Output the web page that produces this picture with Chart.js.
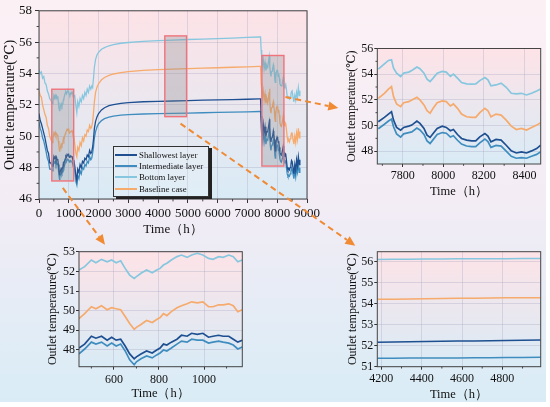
<!DOCTYPE html>
<html>
<head>
<meta charset="utf-8">
<script src="https://cdn.jsdelivr.net/npm/chart.js@4.4.1/dist/chart.umd.min.js"></script>
<style>
  html, body { margin: 0; padding: 0; }
  body { width: 550px; height: 407px; position: relative; overflow: hidden; background: #fff; }
  #bg { position: absolute; left: 0; top: 0; width: 546px; height: 402px;
        background: linear-gradient(to bottom, #fbf1f5 0%, #f3ecf5 50%, #d9ecf6 100%); }
  canvas { position: absolute; }
  #legend { position: absolute; left: 113px; top: 146px; width: 94px; height: 47px; padding-top: 2px;
            border: 1px solid #333; box-shadow: 3px 2px 0 #222; background: rgba(255,255,255,0.15);
            font: 8.8px 'Liberation Serif', serif; color: #111; }
  #legend .row { height: 11.3px; display: flex; align-items: center; white-space: nowrap; }
  #legend .sw { width: 22px; height: 2px; margin: 0 2px 0 1px; }
</style>
</head>
<body>
<div id="bg"></div>
<canvas id="main" width="330" height="240" style="left:0;top:0"></canvas>
<canvas id="zoomA" width="240" height="175" style="left:20px;top:230px"></canvas>
<canvas id="zoomB" width="260" height="175" style="left:290px;top:230px"></canvas>
<canvas id="zoomC" width="220" height="175" style="left:330px;top:30px"></canvas>
<div id="legend"></div>
<canvas id="arrows" width="550" height="407" style="left:0;top:0;pointer-events:none"></canvas>
<script>
const seriesNames = ['Shallowest layer', 'Intermediate layer', 'Bottom layer', 'Baseline case'];
const seriesColors = ['#1d4f91', '#3f8dbf', '#86c7df', '#f6aa6c'];

// start of the year, before the first zoom window
const earlyHours   = [0, 40, 80, 120, 160, 200, 240, 280, 320, 360, 400];
const earlyShallow = [51.45, 51.0, 50.8, 50.5, 50.2, 49.9, 49.5, 49.1, 48.9, 48.3, 48.3];
const earlyInter   = [50.9, 50.5, 50.3, 49.9, 49.7, 49.35, 49.0, 48.6, 48.4, 47.9, 47.9];
const earlyBottom  = [54.25, 54.0, 54.1, 53.7, 53.8, 53.4, 53.3, 52.9, 52.7, 52.4, 52.3];
const earlyBase    = [52.9, 52.6, 52.5, 52.0, 51.7, 51.4, 51.2, 50.7, 50.5, 50.0, 49.8];

// zoom window 1 (bottom left inset)
const zoomAHours   = [445, 470, 500, 520, 545, 570, 590, 610, 630, 650, 670, 690, 700, 720, 745, 770, 790, 805,
                      820, 835, 855, 880, 900, 925, 945, 970, 995, 1020, 1040, 1065, 1085, 1110, 1130, 1150, 1170];
const zoomAShallow = [48.1, 48.3, 48.7, 48.6, 48.7, 48.5, 48.65, 48.5, 48.55, 48.2, 47.8, 47.55, 47.65, 47.8, 47.95, 47.85, 48.0, 48.1,
                      48.3, 48.25, 48.4, 48.55, 48.75, 48.7, 48.85, 48.8, 48.85, 48.65, 48.7, 48.75, 48.7, 48.7, 48.55, 48.4, 48.5];
const zoomAInter   = [47.8, 48.05, 48.4, 48.3, 48.4, 48.2, 48.35, 48.2, 48.3, 47.95, 47.5, 47.25, 47.4, 47.55, 47.7, 47.6, 47.75, 47.85,
                      48.0, 47.95, 48.1, 48.3, 48.45, 48.4, 48.55, 48.5, 48.5, 48.35, 48.4, 48.45, 48.4, 48.35, 48.25, 48.05, 48.15];
const zoomABottom  = [52.07, 52.24, 52.58, 52.44, 52.61, 52.49, 52.58, 52.44, 52.54, 52.15, 51.81, 51.64, 51.73, 51.9, 52.07, 51.93, 52.07, 52.15,
                      52.32, 52.41, 52.58, 52.75, 52.83, 52.71, 52.83, 52.92, 52.83, 52.66, 52.61, 52.75, 52.71, 52.83, 52.75, 52.49, 52.58];
const zoomABase    = [49.6, 49.85, 50.2, 50.1, 50.25, 50.05, 50.15, 50.1, 50.05, 49.7, 49.35, 49.05, 49.15, 49.3, 49.5, 49.4, 49.55, 49.65,
                      49.85, 49.75, 49.95, 50.15, 50.25, 50.35, 50.45, 50.4, 50.45, 50.2, 50.2, 50.3, 50.3, 50.35, 50.25, 49.95, 50.05];

// middle of the year
const midHours   = [1200, 1240, 1270, 1300, 1340, 1380, 1420, 1460, 1500, 1540, 1580, 1620, 1660, 1700, 1740, 1770, 1800, 1830, 1860,
                    1900, 1950, 2000, 2100, 2200, 2350, 2500, 2750, 3000, 3500, 4000, 4500, 5000, 5500, 6000, 6500, 7000, 7400, 7440];
const midShallow = [48.1, 47.5, 47.2, 47.9, 47.7, 48.2, 48.0, 48.4, 48.3, 48.6, 48.5, 48.8, 48.7, 49.1, 48.9, 49.0, 49.3, 49.8, 50.5,
                    50.95, 51.25, 51.45, 51.68, 51.82, 51.95, 52.02, 52.1, 52.15, 52.2, 52.22, 52.25, 52.27, 52.3, 52.32, 52.34, 52.36, 52.38, 52.38];
const midInter   = [47.8, 47.1, 46.9, 47.5, 47.3, 47.8, 47.6, 48.0, 47.9, 48.2, 48.1, 48.4, 48.3, 48.7, 48.5, 48.6, 48.9, 49.3, 49.9,
                    50.3, 50.6, 50.8, 51.0, 51.12, 51.22, 51.28, 51.35, 51.38, 51.42, 51.44, 51.46, 51.48, 51.5, 51.52, 51.54, 51.56, 51.58, 51.58];
const midBottom  = [52.6, 51.9, 51.5, 52.2, 51.9, 52.4, 52.2, 52.6, 52.4, 52.8, 52.6, 53.0, 52.8, 53.2, 53.0, 53.2, 53.1, 53.7, 54.4,
                    54.9, 55.2, 55.35, 55.55, 55.65, 55.77, 55.85, 55.93, 55.98, 56.05, 56.1, 56.13, 56.17, 56.2, 56.23, 56.26, 56.3, 56.33, 56.33];
const midBase    = [49.5, 48.9, 48.7, 49.3, 49.1, 49.6, 49.4, 49.9, 49.7, 50.1, 50.0, 50.4, 50.3, 50.7, 50.5, 50.6, 50.9, 51.5, 52.2,
                    52.8, 53.15, 53.35, 53.6, 53.75, 53.88, 53.97, 54.06, 54.12, 54.2, 54.25, 54.28, 54.31, 54.34, 54.37, 54.4, 54.43, 54.46, 54.46];

// zoom window 2 (bottom right inset)
const zoomBHours   = [4180, 4260, 4340, 4420, 4500, 4580, 4660, 4740, 4820, 4900, 4990];
const zoomBShallow = [52.17, 52.18, 52.19, 52.2, 52.21, 52.22, 52.23, 52.24, 52.25, 52.26, 52.27];
const zoomBInter   = [51.4, 51.4, 51.41, 51.41, 51.42, 51.42, 51.43, 51.43, 51.44, 51.44, 51.45];
const zoomBBottom  = [56.11, 56.12, 56.12, 56.13, 56.13, 56.14, 56.14, 56.15, 56.15, 56.16, 56.16];
const zoomBBase    = [54.21, 54.22, 54.23, 54.24, 54.25, 54.26, 54.26, 54.27, 54.28, 54.28, 54.29];

// drop after the heating pause
const dropHours   = [7460, 7480, 7500, 7530, 7560, 7590, 7620, 7650];
const dropShallow = [51.3, 50.7, 50.3, 50.8, 50.2, 50.6, 50.0, 50.3];
const dropInter   = [50.6, 50.1, 49.7, 50.2, 49.6, 50.0, 49.5, 49.8];
const dropBottom  = [55.5, 55.0, 54.5, 54.9, 54.3, 54.7, 54.2, 54.5];
const dropBase    = [53.4, 52.9, 52.5, 52.9, 52.3, 52.7, 52.1, 52.4];

// zoom window 3 (top right inset)
const zoomCHours   = [7680, 7710, 7730, 7745, 7755, 7770, 7790, 7805, 7830, 7845, 7870, 7885, 7905, 7920, 7935, 7950, 7970, 7995, 8015, 8035,
                      8050, 8070, 8090, 8115, 8140, 8160, 8180, 8205, 8220, 8235, 8260, 8285, 8310, 8335, 8360, 8385, 8410, 8435, 8460, 8480];
const zoomCShallow = [50.29, 50.63, 50.89, 51.08, 50.42, 49.85, 49.64, 49.85, 49.95, 50.03, 50.34, 50.16, 49.77, 49.25, 49.07, 49.38, 49.77, 49.95, 49.85, 49.59,
                      49.69, 49.3, 48.99, 48.86, 48.8, 48.8, 49.12, 49.38, 49.17, 48.73, 48.91, 48.86, 48.46, 48.02, 47.86, 47.94, 47.86, 48.02, 48.2, 48.46];
const zoomCInter   = [49.75, 50.1, 50.35, 50.5, 49.9, 49.35, 49.1, 49.35, 49.45, 49.5, 49.8, 49.65, 49.3, 48.8, 48.6, 48.9, 49.3, 49.45, 49.4, 49.1,
                      49.2, 48.85, 48.55, 48.4, 48.35, 48.35, 48.65, 48.95, 48.75, 48.3, 48.45, 48.4, 48.0, 47.6, 47.45, 47.5, 47.45, 47.6, 47.75, 47.95];
const zoomCBottom  = [54.39, 54.8, 55.07, 55.12, 54.47, 54.08, 53.82, 54.08, 54.16, 54.29, 54.55, 54.42, 54.08, 53.61, 53.43, 53.69, 54.08, 54.21, 54.16, 53.82,
                      54.0, 53.69, 53.35, 53.24, 53.22, 53.24, 53.5, 53.74, 53.56, 53.09, 53.16, 53.3, 52.98, 52.51, 52.46, 52.51, 52.38, 52.51, 52.69, 52.85];
const zoomCBase    = [52.12, 52.51, 52.83, 53.03, 52.25, 51.68, 51.47, 51.78, 51.86, 51.99, 52.2, 51.99, 51.6, 51.15, 50.95, 51.34, 51.78, 51.91, 51.86, 51.52,
                      51.68, 51.34, 50.89, 50.68, 50.63, 50.63, 51.0, 51.34, 51.15, 50.68, 50.89, 50.81, 50.42, 49.95, 49.69, 49.77, 49.64, 49.85, 50.03, 50.21];

// end of the year
const lateHours   = [8500, 8530, 8560, 8590, 8620, 8650, 8680, 8710, 8740, 8760];
const lateShallow = [48.4, 48.0, 47.6, 48.2, 47.8, 48.5, 48.1, 48.7, 48.2, 48.5];
const lateInter   = [47.9, 47.6, 47.3, 47.8, 47.4, 48.0, 47.7, 48.3, 47.7, 48.0];
const lateBottom  = [52.9, 52.5, 52.2, 52.6, 52.3, 52.8, 52.5, 53.1, 52.6, 52.9];
const lateBase    = [50.2, 49.8, 49.5, 50.0, 49.6, 50.2, 49.8, 50.5, 49.9, 50.3];

// zoomed regions drawn on the main plot: [hour from, hour to, temp low, temp high]
const zoomBoxes = [[430, 1165, 47.15, 53.0], [4225, 4955, 51.25, 56.4], [7485, 8225, 48.1, 55.15]];

const mainXTicks = [0, 1000, 2000, 3000, 4000, 5000, 6000, 7000, 8000, 9000];
const mainYTicks = [46, 48, 50, 52, 54, 56, 58];
const zoomAXTicks = [600, 800, 1000];
const zoomAYTicks = [48, 49, 50, 51, 52, 53];
const zoomBXTicks = [4200, 4400, 4600, 4800];
const zoomBYTicks = [51, 52, 53, 54, 55, 56];
const zoomCXTicks = [7800, 8000, 8200, 8400];
const zoomCYTicks = [48, 50, 52, 54, 56];

Chart.defaults.font.family = "'Liberation Serif', 'DejaVu Serif', serif";
Chart.defaults.color = '#111';

function framePlugin(minorX, minorY, len) {
  return {
    id: 'frame',
    beforeDraw(chart) {
      const { ctx, chartArea: a } = chart;
      const g = ctx.createLinearGradient(0, a.top, 0, a.bottom);
      g.addColorStop(0, '#fde3e7');
      g.addColorStop(1, '#d9ebf6');
      ctx.save();
      ctx.fillStyle = g;
      ctx.fillRect(a.left, a.top, a.right - a.left, a.bottom - a.top);
      ctx.restore();
    },
    afterDraw(chart) {
      const { ctx, chartArea: a, scales } = chart;
      ctx.save();
      ctx.strokeStyle = '#444';
      ctx.lineWidth = 1;
      ctx.strokeRect(a.left, a.top, a.right - a.left, a.bottom - a.top);
      ctx.beginPath();
      minorX.forEach(v => {
        const x = scales.x.getPixelForValue(v);
        ctx.moveTo(x, a.bottom); ctx.lineTo(x, a.bottom + len * 0.6);
      });
      minorY.forEach(v => {
        const y = scales.y.getPixelForValue(v);
        ctx.moveTo(a.left, y); ctx.lineTo(a.left - len * 0.6, y);
      });
      ctx.stroke();
      ctx.restore();
    }
  };
}

const boxPlugin = {
  id: 'boxes',
  afterDatasetsDraw(chart) {
    const { ctx, scales: { x, y } } = chart;
    ctx.save();
    zoomBoxes.forEach(b => {
      const x0 = x.getPixelForValue(b[0]), x1 = x.getPixelForValue(b[1]);
      const y0 = y.getPixelForValue(b[3]), y1 = y.getPixelForValue(b[2]);
      ctx.fillStyle = 'rgba(135,135,140,0.3)';
      ctx.fillRect(x0, y0, x1 - x0, y1 - y0);
      ctx.strokeStyle = '#f0737c';
      ctx.lineWidth = 1.4;
      ctx.strokeRect(x0, y0, x1 - x0, y1 - y0);
    });
    ctx.restore();
  }
};

function buildChart(id, hours, series, o) {
  const datasets = seriesNames.map((name, i) => ({
    label: name,
    data: hours.map((h, k) => ({ x: h, y: series[i][k] })),
    borderColor: seriesColors[i],
    borderWidth: o.lineWidth,
    pointRadius: 0,
    tension: 0
  }));
  return new Chart(document.getElementById(id), {
    type: 'line',
    data: { datasets },
    options: {
      responsive: false,
      animation: false,
      layout: { padding: o.padding },
      plugins: { legend: { display: false }, tooltip: { enabled: false } },
      scales: {
        x: {
          type: 'linear', min: o.xMin, max: o.xMax,
          afterBuildTicks: s => { s.ticks = o.xTicks.map(v => ({ value: v })); },
          afterFit: s => { s.height = o.xHeight; },
          ticks: { font: { size: o.tickSize }, padding: o.xTickPad, maxRotation: 0, autoSkip: false, callback: v => String(v) },
          grid: { color: 'rgba(160,160,190,0.3)', tickColor: '#333', tickLength: o.tickLen },
          border: { display: false },
          title: { display: true, text: 'Time（h）', font: { size: o.titleSize }, padding: { top: 0, bottom: o.xTitlePad } }
        },
        y: {
          min: o.yMin, max: o.yMax,
          afterBuildTicks: s => { s.ticks = o.yTicks.map(v => ({ value: v })); },
          afterFit: s => { s.width = o.yWidth; },
          ticks: { font: { size: o.tickSize }, padding: o.yTickPad, autoSkip: false, callback: v => String(v) },
          grid: { color: 'rgba(160,160,190,0.3)', tickColor: '#333', tickLength: o.tickLen },
          border: { display: false },
          title: { display: true, text: 'Outlet temperature(℃)', font: { size: o.yTitleSize }, padding: { top: o.yTitlePad, bottom: 0 } }
        }
      }
    },
    plugins: [framePlugin(o.minorX, o.minorY, o.tickLen)].concat(o.extra || [])
  });
}

const mainHours = [...earlyHours, ...zoomAHours, ...midHours, ...dropHours, ...zoomCHours, ...lateHours];
const mainSeries = [
  [...earlyShallow, ...zoomAShallow, ...midShallow, ...dropShallow, ...zoomCShallow, ...lateShallow],
  [...earlyInter, ...zoomAInter, ...midInter, ...dropInter, ...zoomCInter, ...lateInter],
  [...earlyBottom, ...zoomABottom, ...midBottom, ...dropBottom, ...zoomCBottom, ...lateBottom],
  [...earlyBase, ...zoomABase, ...midBase, ...dropBase, ...zoomCBase, ...lateBase]
];

const mainChart = buildChart('main', mainHours, mainSeries, {
  lineWidth: 1.3, padding: { left: 0, right: 23, top: 10, bottom: 0 },
  xMin: 0, xMax: 9000, xTicks: mainXTicks, yMin: 46, yMax: 58, yTicks: mainYTicks,
  xHeight: 41, yWidth: 39, tickLen: 4, xTickPad: 3, yTickPad: 3,
  tickSize: 13, titleSize: 13, yTitleSize: 14, xTitlePad: 3, yTitlePad: 2,
  minorX: [500, 1500, 2500, 3500, 4500, 5500, 6500, 7500, 8500], minorY: [47, 49, 51, 53, 55, 57],
  extra: [boxPlugin]
});

const chartA = buildChart('zoomA', zoomAHours, [zoomAShallow, zoomAInter, zoomABottom, zoomABase], {
  lineWidth: 1.7, padding: { left: 0, right: 17.7, top: 21.7, bottom: 0 },
  xMin: 445, xMax: 1170, xTicks: zoomAXTicks, yMin: 47.15, yMax: 53, yTicks: zoomAYTicks,
  xHeight: 38.3, yWidth: 59, tickLen: 3, xTickPad: 2.6, yTickPad: 1,
  tickSize: 12, titleSize: 12.5, yTitleSize: 12, xTitlePad: 3.5, yTitlePad: 25.8,
  minorX: [500, 700, 900, 1100], minorY: []
});

const chartB = buildChart('zoomB', zoomBHours, [zoomBShallow, zoomBInter, zoomBBottom, zoomBBase], {
  lineWidth: 1.5, padding: { left: 0, right: 9.3, top: 21.7, bottom: 0 },
  xMin: 4180, xMax: 4990, xTicks: zoomBXTicks, yMin: 51, yMax: 56.48, yTicks: zoomBYTicks,
  xHeight: 38.3, yWidth: 87.3, tickLen: 3, xTickPad: 1.6, yTickPad: 1,
  tickSize: 12, titleSize: 12.5, yTitleSize: 12, xTitlePad: 2.5, yTitlePad: 55.8,
  minorX: [4300, 4500, 4700, 4900], minorY: []
});

const chartC = buildChart('zoomC', zoomCHours, [zoomCShallow, zoomCInter, zoomCBottom, zoomCBase], {
  lineWidth: 1.7, padding: { left: 0, right: 9.3, top: 18.5, bottom: 0 },
  xMin: 7675, xMax: 8480, xTicks: zoomCXTicks, yMin: 47, yMax: 56, yTicks: zoomCYTicks,
  xHeight: 41, yWidth: 47.3, tickLen: 3, xTickPad: 2, yTickPad: 1,
  tickSize: 12, titleSize: 12.5, yTitleSize: 12, xTitlePad: 5.8, yTitlePad: 14.2,
  minorX: [7700, 7900, 8100, 8300], minorY: [49, 51, 53, 55]
});

// legend
const legend = document.getElementById('legend');
seriesNames.forEach((name, i) => {
  const row = document.createElement('div');
  row.className = 'row';
  const sw = document.createElement('span');
  sw.className = 'sw';
  sw.style.background = seriesColors[i];
  row.appendChild(sw);
  row.appendChild(document.createTextNode(name));
  legend.appendChild(row);
});

// dashed arrows from the boxes to the insets
const actx = document.getElementById('arrows').getContext('2d');
function arrow(x0, y0, x1, y1) {
  const ang = Math.atan2(y1 - y0, x1 - x0);
  const head = 10, half = 4.5;
  const bx = x1 - head * Math.cos(ang), by = y1 - head * Math.sin(ang);
  actx.strokeStyle = '#f08a33';
  actx.fillStyle = '#f08a33';
  actx.lineWidth = 2;
  actx.setLineDash([6, 4]);
  actx.beginPath(); actx.moveTo(x0, y0); actx.lineTo(bx, by); actx.stroke();
  actx.setLineDash([]);
  actx.beginPath();
  actx.moveTo(x1, y1);
  actx.lineTo(bx + half * Math.sin(ang), by - half * Math.cos(ang));
  actx.lineTo(bx - half * Math.sin(ang), by + half * Math.cos(ang));
  actx.closePath(); actx.fill();
}
const mx = mainChart.scales.x, my = mainChart.scales.y;
const caA = chartA.chartArea, caB = chartB.chartArea, caC = chartC.chartArea;
arrow(mx.getPixelForValue(zoomBoxes[0][0]) + 11, my.getPixelForValue(zoomBoxes[0][2]) + 7, 20 + caA.left + 26, 230 + caA.top - 7);
arrow(mx.getPixelForValue(zoomBoxes[1][1]) - 6, my.getPixelForValue(zoomBoxes[1][2]) + 7, 290 + caB.left - 22, 230 + caB.top - 6);
arrow(mx.getPixelForValue(zoomBoxes[2][1]) + 1.5, my.getPixelForValue(52.5), 330 + caC.left - 39, 30 + caC.top + 59.5);
</script>
</body>
</html>
